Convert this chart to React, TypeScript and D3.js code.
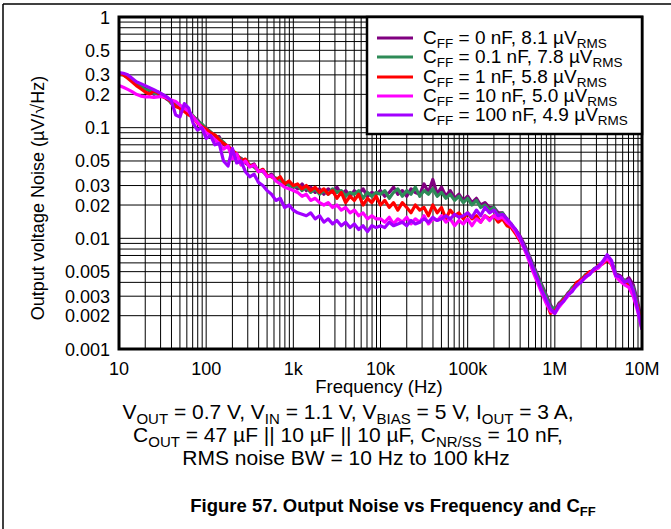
import React from "react";
import * as d3 from "d3";

// frequency grid (Hz): 20 log-spaced mantissas per decade
const FREQ_MANTISSA = [1, 1.12, 1.26, 1.41, 1.58, 1.78, 2, 2.24, 2.51, 2.82, 3.16, 3.55, 3.98, 4.47, 5.01, 5.62, 6.31, 7.08, 7.94, 8.91];
const FREQ_DECADES = [10, 100, 1e3, 1e4, 1e5, 1e6];
const FREQ = [...FREQ_DECADES.flatMap((d) => FREQ_MANTISSA.map((m) => d * m)), 1e7];

// noise density (µV/√Hz)
const CFF_0NF = [
  0.31, 0.305, 0.29, 0.27, 0.25, 0.235, 0.225, 0.215, 0.2, 0.21, 0.195, 0.18, 0.172, 0.165, 0.15, 0.152, 0.135, 0.125, 0.118, 0.105,
  0.1, 0.09, 0.082, 0.083, 0.07, 0.068, 0.06, 0.055, 0.053, 0.048, 0.045, 0.047, 0.04, 0.042, 0.036, 0.038, 0.034, 0.035, 0.031, 0.032,
  0.03, 0.028, 0.031, 0.027, 0.029, 0.026, 0.028, 0.025, 0.028, 0.026, 0.029, 0.025, 0.027, 0.024, 0.027, 0.025, 0.028, 0.024, 0.026, 0.025,
  0.027, 0.024, 0.026, 0.029, 0.025, 0.027, 0.024, 0.028, 0.026, 0.025, 0.031, 0.026, 0.034, 0.025, 0.029, 0.024, 0.027, 0.023, 0.025, 0.022,
  0.024, 0.021, 0.023, 0.02, 0.021, 0.019, 0.019, 0.017, 0.017, 0.015, 0.013, 0.012, 0.0105, 0.0088, 0.0072, 0.0058, 0.0047, 0.0038, 0.0031, 0.0025,
  0.0022, 0.0026, 0.0028, 0.0032, 0.0035, 0.0038, 0.0043, 0.0045, 0.0049, 0.0052, 0.0056, 0.006, 0.0069, 0.0061, 0.0048, 0.0046, 0.0041, 0.0044, 0.0038, 0.0027, 0.0017,
];
const CFF_0P1NF = [
  0.3, 0.3, 0.285, 0.265, 0.245, 0.235, 0.22, 0.22, 0.205, 0.2, 0.2, 0.185, 0.165, 0.16, 0.155, 0.145, 0.14, 0.128, 0.115, 0.108,
  0.098, 0.092, 0.085, 0.08, 0.074, 0.066, 0.063, 0.056, 0.052, 0.05, 0.046, 0.044, 0.041, 0.04, 0.037, 0.036, 0.035, 0.033, 0.032, 0.03,
  0.029, 0.03, 0.027, 0.029, 0.026, 0.028, 0.025, 0.027, 0.025, 0.028, 0.026, 0.027, 0.024, 0.026, 0.025, 0.027, 0.023, 0.026, 0.024, 0.026,
  0.025, 0.027, 0.023, 0.026, 0.028, 0.024, 0.027, 0.025, 0.029, 0.024, 0.027, 0.025, 0.028, 0.024, 0.026, 0.023, 0.025, 0.022, 0.024, 0.021,
  0.023, 0.02, 0.022, 0.019, 0.02, 0.018, 0.019, 0.016, 0.017, 0.014, 0.0135, 0.0115, 0.01, 0.0085, 0.007, 0.0056, 0.0046, 0.0037, 0.003, 0.0024,
  0.0023, 0.0025, 0.0029, 0.0031, 0.0036, 0.0039, 0.0042, 0.0047, 0.0048, 0.0053, 0.0055, 0.0061, 0.0066, 0.006, 0.0047, 0.0043, 0.0042, 0.0039, 0.0036, 0.0025, 0.0016,
];
const CFF_1NF = [
  0.31, 0.3, 0.28, 0.26, 0.24, 0.225, 0.21, 0.2, 0.215, 0.205, 0.19, 0.185, 0.17, 0.155, 0.15, 0.14, 0.13, 0.125, 0.11, 0.103,
  0.097, 0.09, 0.086, 0.078, 0.072, 0.068, 0.062, 0.058, 0.05, 0.052, 0.045, 0.046, 0.04, 0.042, 0.037, 0.036, 0.034, 0.036, 0.031, 0.033,
  0.03, 0.031, 0.028, 0.03, 0.027, 0.029, 0.026, 0.028, 0.025, 0.027, 0.023, 0.026, 0.021, 0.024, 0.022, 0.025, 0.02, 0.023, 0.021, 0.024,
  0.02, 0.022, 0.019, 0.021, 0.018, 0.021, 0.019, 0.017, 0.02, 0.018, 0.019, 0.016, 0.02, 0.017, 0.019, 0.015, 0.018, 0.016, 0.017, 0.015,
  0.017, 0.015, 0.016, 0.014, 0.016, 0.015, 0.016, 0.014, 0.015, 0.013, 0.0125, 0.011, 0.0095, 0.0082, 0.0066, 0.0052, 0.0042, 0.0034, 0.0027, 0.0021,
  0.0022, 0.0025, 0.0028, 0.0031, 0.0034, 0.004, 0.0042, 0.0046, 0.005, 0.0051, 0.0057, 0.0059, 0.0064, 0.0058, 0.0046, 0.0042, 0.004, 0.0037, 0.0032, 0.0024, 0.0016,
];
const CFF_10NF = [
  0.24, 0.232, 0.222, 0.212, 0.2, 0.193, 0.19, 0.19, 0.188, 0.19, 0.192, 0.185, 0.178, 0.172, 0.16, 0.15, 0.14, 0.125, 0.112, 0.1,
  0.09, 0.085, 0.078, 0.072, 0.064, 0.068, 0.052, 0.058, 0.046, 0.05, 0.044, 0.046, 0.04, 0.041, 0.036, 0.037, 0.033, 0.031, 0.029, 0.028,
  0.027, 0.026, 0.024, 0.025, 0.022, 0.023, 0.021, 0.02, 0.021, 0.019, 0.02, 0.018, 0.019, 0.017, 0.018, 0.016, 0.017, 0.015, 0.016, 0.015,
  0.015, 0.014, 0.0155, 0.0135, 0.015, 0.014, 0.0155, 0.0135, 0.015, 0.014, 0.016, 0.0135, 0.015, 0.0145, 0.016, 0.014, 0.015, 0.013, 0.0145, 0.0135,
  0.015, 0.013, 0.015, 0.014, 0.016, 0.0145, 0.016, 0.015, 0.0155, 0.014, 0.013, 0.0115, 0.0098, 0.008, 0.0064, 0.005, 0.004, 0.0032, 0.0026, 0.0022,
  0.0021, 0.0024, 0.0027, 0.003, 0.0034, 0.0037, 0.0041, 0.0044, 0.0048, 0.0052, 0.0054, 0.006, 0.0066, 0.0059, 0.0045, 0.0041, 0.0038, 0.0036, 0.003, 0.0022, 0.0015,
];
const CFF_100NF = [
  0.315, 0.31, 0.3, 0.28, 0.26, 0.25, 0.24, 0.23, 0.22, 0.21, 0.2, 0.19, 0.175, 0.13, 0.125, 0.165, 0.15, 0.11, 0.095, 0.1,
  0.08, 0.085, 0.07, 0.072, 0.05, 0.045, 0.065, 0.048, 0.05, 0.04, 0.036, 0.038, 0.032, 0.03, 0.027, 0.025, 0.022, 0.023, 0.019, 0.02,
  0.018, 0.017, 0.0165, 0.016, 0.017, 0.015, 0.016, 0.014, 0.015, 0.0135, 0.0145, 0.013, 0.014, 0.0125, 0.0135, 0.012, 0.013, 0.0115, 0.013, 0.0125,
  0.013, 0.0125, 0.014, 0.013, 0.0135, 0.014, 0.013, 0.0145, 0.0135, 0.014, 0.015, 0.014, 0.0155, 0.0145, 0.015, 0.016, 0.015, 0.0165, 0.0155, 0.016,
  0.017, 0.0155, 0.018, 0.016, 0.019, 0.017, 0.018, 0.016, 0.0165, 0.015, 0.0135, 0.012, 0.0102, 0.0083, 0.0068, 0.0054, 0.0043, 0.0034, 0.0028, 0.0023,
  0.0021, 0.0025, 0.0027, 0.0031, 0.0033, 0.0038, 0.004, 0.0045, 0.0047, 0.0053, 0.0056, 0.0062, 0.0071, 0.0063, 0.0046, 0.0045, 0.004, 0.0042, 0.0034, 0.0023, 0.0015,
];

const SERIES_NAMES = ["0 nF", "0.1 nF", "1 nF", "10 nF", "100 nF"];
const SERIES_RMS = ["8.1", "7.8", "5.8", "5.0", "4.9"];
const SERIES_COLORS = ["#800080", "#2E8B57", "#FF0000", "#FF00FF", "#A200FF"];
const SERIES_VALUES = [CFF_0NF, CFF_0P1NF, CFF_1NF, CFF_10NF, CFF_100NF];

const X_TICKS = [10, 100, 1e3, 1e4, 1e5, 1e6, 1e7];
const X_TICK_LABELS = ["10", "100", "1k", "10k", "100k", "1M", "10M"];
const Y_TICKS = [1, 0.5, 0.3, 0.2, 0.1, 0.05, 0.03, 0.02, 0.01, 0.005, 0.003, 0.002, 0.001];
const Y_TICK_LABELS = ["1", "0.5", "0.3", "0.2", "0.1", "0.05", "0.03", "0.02", "0.01", "0.005", "0.003", "0.002", "0.001"];

const FONT = "'Liberation Sans', Arial, Helvetica, sans-serif";

type Seg = { t: string; sub?: boolean };

function RichText({ x, y, segs, size, subSize, anchor = "start", weight = "normal" }: { x: number; y: number; segs: Seg[]; size: number; subSize: number; anchor?: string; weight?: string }) {
  let inSub = false;
  const shift = Math.round(size * 0.22);
  return (
    <text x={x} y={y} fontSize={size} fontFamily={FONT} fontWeight={weight} textAnchor={anchor as any} fill="#000">
      {segs.map((s, i) => {
        let dy = 0;
        if (s.sub && !inSub) { dy = shift; inSub = true; }
        else if (!s.sub && inSub) { dy = -shift; inSub = false; }
        return (
          <tspan key={i} dy={dy} fontSize={s.sub ? subSize : size}>{s.t}</tspan>
        );
      })}
    </text>
  );
}

export default function App() {
  const W = 671, H = 529;
  const left = 119, right = 642, top = 17, bottom = 349;
  const x = d3.scaleLog().domain([10, 1e7]).range([left, right]);
  const y = d3.scaleLog().domain([0.001, 1]).range([bottom, top]);

  const gridX: number[] = [];
  [10, 100, 1e3, 1e4, 1e5, 1e6].forEach((d) => { for (let m = 1; m <= 9; m++) gridX.push(d * m); });
  gridX.push(1e7);
  const gridY: number[] = [];
  [0.001, 0.01, 0.1].forEach((d) => { for (let m = 1; m <= 9; m++) gridY.push(d * m); });
  gridY.push(1);

  const line = d3.line<number>().x((_, i) => x(FREQ[i])).y((v) => y(v));

  const legX = 367, legY = 17, legW = right - 367, legH = 117;
  const rowY = [38, 57, 77, 96, 115];

  return (
    <svg width={W} height={H} style={{ position: "absolute", left: 0, top: 0, background: "#fff" }}>
      <rect x={0} y={0} width={W} height={H} fill="#fff" />
      {/* outer frame */}
      <line x1={3} y1={4} x2={W} y2={4} stroke="#000" strokeWidth={1.5} />
      <line x1={3} y1={4} x2={3} y2={H} stroke="#000" strokeWidth={1.5} />

      <defs>
        <clipPath id="plotClip">
          <rect x={left} y={top} width={right - left} height={bottom - top} />
        </clipPath>
      </defs>

      {/* grid */}
      <g stroke="#000" strokeWidth={1}>
        {gridX.map((f, i) => (
          <line key={"gx" + i} x1={x(f)} x2={x(f)} y1={top} y2={bottom} />
        ))}
        {gridY.map((v, i) => (
          <line key={"gy" + i} x1={left} x2={right} y1={y(v)} y2={y(v)} />
        ))}
      </g>

      {/* series */}
      <g clipPath="url(#plotClip)">
        {SERIES_VALUES.map((vals, k) => (
          <path key={k} d={line(vals) || ""} fill="none" stroke={SERIES_COLORS[k]} strokeWidth={3.2} strokeLinejoin="round" />
        ))}
      </g>

      {/* plot border */}
      <rect x={left} y={top} width={right - left} height={bottom - top} fill="none" stroke="#000" strokeWidth={3} />

      {/* legend */}
      <rect x={legX} y={legY} width={legW} height={legH} fill="#fff" stroke="#000" strokeWidth={2.5} />
      {SERIES_NAMES.map((n, k) => (
        <g key={k}>
          <line x1={377} x2={413} y1={rowY[k]} y2={rowY[k]} stroke={SERIES_COLORS[k]} strokeWidth={3} />
          <RichText x={423} y={rowY[k] + 6} size={19} subSize={13.5}
            segs={[{ t: "C" }, { t: "FF", sub: true }, { t: ` = ${n}, ${SERIES_RMS[k]} µV` }, { t: "RMS", sub: true }]} />
        </g>
      ))}

      {/* axes labels */}
      {X_TICKS.map((f, i) => (
        <text key={"xt" + i} x={x(f)} y={374.5} fontSize={18} fontFamily={FONT} textAnchor="middle">{X_TICK_LABELS[i]}</text>
      ))}
      {Y_TICKS.map((v, i) => (
        <text key={"yt" + i} x={110} y={y(v) + 6.5} fontSize={18} fontFamily={FONT} textAnchor="end">{Y_TICK_LABELS[i]}</text>
      ))}
      <text x={379} y={393} fontSize={18.5} fontFamily={FONT} textAnchor="middle">Frequency (Hz)</text>
      <text transform={`translate(44,${(top + bottom) / 2 + 15}) rotate(-90)`} fontSize={18} fontFamily={FONT} textAnchor="middle">Output voltage Noise (µV/√Hz)</text>

      {/* conditions */}
      <RichText x={348} y={419} size={21} subSize={15} anchor="middle"
        segs={[{ t: "V" }, { t: "OUT", sub: true }, { t: " = 0.7 V, V" }, { t: "IN", sub: true }, { t: " = 1.1 V, V" }, { t: "BIAS", sub: true }, { t: " = 5 V, I" }, { t: "OUT", sub: true }, { t: " = 3 A," }]} />
      <RichText x={348} y={442} size={21} subSize={15} anchor="middle"
        segs={[{ t: "C" }, { t: "OUT", sub: true }, { t: " = 47 µF || 10 µF || 10 µF, C" }, { t: "NR/SS", sub: true }, { t: " = 10 nF," }]} />
      <RichText x={346} y={465} size={21} subSize={15} anchor="middle" segs={[{ t: "RMS noise BW = 10 Hz to 100 kHz" }]} />

      <RichText x={393} y={512} size={18.5} subSize={13} anchor="middle" weight="bold"
        segs={[{ t: "Figure 57. Output Noise vs Frequency and C" }, { t: "FF", sub: true }]} />
    </svg>
  );
}
